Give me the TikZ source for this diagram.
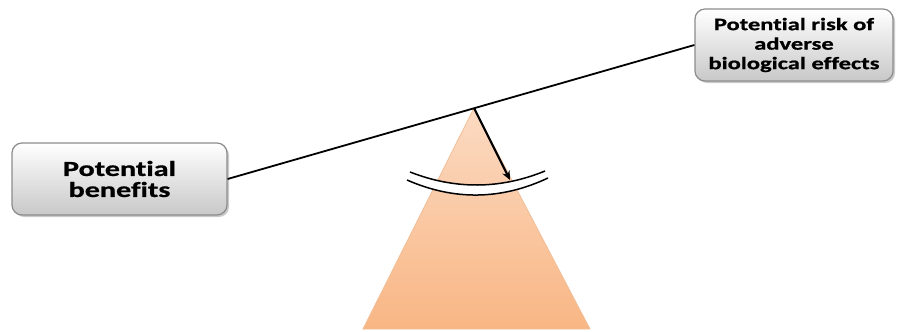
\documentclass[tikz,border=0pt]{standalone}
\usepackage{fontspec}
\newfontfamily\lblfont{Carlito}[FakeStretch=1.4, FakeBold=0.8, Ligatures=NoCommon]
\usetikzlibrary{shadows,arrows.meta}
\definecolor{boxedge}{RGB}{140,140,140}
\definecolor{boxbot}{RGB}{200,200,200}
\definecolor{peachtop}{RGB}{251,218,194}
\definecolor{peachbot}{RGB}{249,182,132}
\definecolor{peachedge}{RGB}{240,190,150}
\tikzset{
  labelbox/.style={draw=boxedge, line width=1.2pt, rounded corners=10pt,
    top color=white, bottom color=boxbot, align=center, inner sep=0pt,
    drop shadow={shadow xshift=2pt, shadow yshift=-2pt, opacity=0.35, fill=black!60}},
  beam/.style={line width=1.8pt, black},
  pointer/.style={line width=2.2pt, black, -{Stealth[length=9pt,width=8pt]}},
  breakarc/.style={line width=1.5pt, black}
}
\begin{document}
\begin{tikzpicture}[x=1pt,y=-1pt]
\useasboundingbox (0,0) rectangle (898,332);
% triangle
\coordinate (apex) at (474,108);
\coordinate (bl) at (363,329);
\coordinate (br) at (590,329);
\shade[top color=peachtop, bottom color=peachbot, draw=peachedge, line width=0.8pt]
  (apex) -- (br) -- (bl) -- cycle;
% break band
\coordinate (u0) at (410,172);
\coordinate (u1) at (545,171);
\coordinate (l0) at (407,180);
\coordinate (l1) at (548,178);
\fill[white] (u0) .. controls (455.3,189.7) and (500.3,189.3) .. (u1)
  -- (l1) .. controls (501.3,200) and (454.3,200.7) .. (l0) -- cycle;
\draw[breakarc] (u0) .. controls (455.3,189.7) and (500.3,189.3) .. (u1);
\draw[breakarc] (l0) .. controls (454.3,200.7) and (501.3,200) .. (l1);
% boxes
\node[labelbox, minimum width=215pt, minimum height=72pt,
  font=\lblfont\bfseries\fontsize{21.5}{21}\selectfont] (ben) at (119.5,179)
  {Potential\\benefits};
\node[labelbox, minimum width=198pt, minimum height=72pt,
  font=\lblfont\bfseries\fontsize{17.5}{19.5}\selectfont] (risk) at (794,45)
  {Potential risk of\\adverse\\biological effects};
% beam and arrow
\draw[beam] (ben.east) -- (risk.west);
\coordinate (tip) at (510,180);
\draw[pointer] (apex) -- (tip);
\end{tikzpicture}
\end{document}
